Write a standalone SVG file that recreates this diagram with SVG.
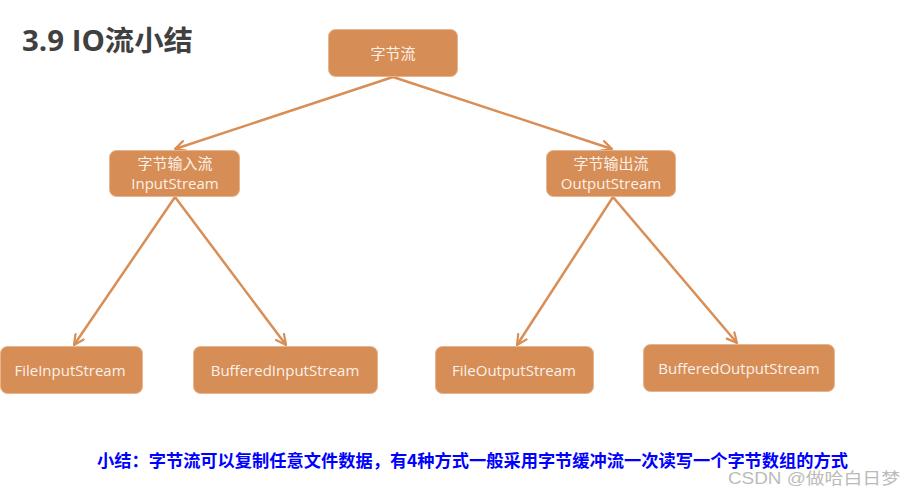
<svg xmlns="http://www.w3.org/2000/svg" width="915" height="489" viewBox="0 0 915 489">
<defs>
<marker id="ah" viewBox="0 0 12 12" refX="11" refY="6" markerWidth="12" markerHeight="12" markerUnits="userSpaceOnUse" orient="auto">
<path d="M1,1 L11,6 L1,11" fill="none" stroke="#D98E56" stroke-width="2.2" stroke-linecap="round" stroke-linejoin="round"/>
</marker>
<style>
.node rect{fill:#D68D56;stroke:#E8B48C;stroke-width:1}
.node text{fill:#FCF1E8;font-family:"Open Sans","Noto Sans CJK SC",sans-serif;font-size:15px;text-anchor:middle}
.conn line{stroke:#D98E56;stroke-width:2.5;marker-end:url(#ah)}
</style>
</defs>
<rect width="915" height="489" fill="#FFFFFF"/>
<text x="22" y="51" font-family="Open Sans,Noto Sans CJK SC,sans-serif" font-weight="bold" font-size="28" fill="#404040" textLength="171" lengthAdjust="spacingAndGlyphs">3.9 IO流小结</text>
<g class="conn">
<line x1="393" y1="77" x2="175" y2="149"/>
<line x1="393" y1="77" x2="612" y2="149"/>
<line x1="175" y1="197" x2="74" y2="345"/>
<line x1="175" y1="197" x2="286" y2="345"/>
<line x1="613" y1="197" x2="517" y2="345"/>
<line x1="613" y1="197" x2="737" y2="343"/>
</g>
<g id="root" class="node"><rect x="328.5" y="29.5" width="129" height="47" rx="7"/><text x="393" y="59">字节流</text></g>
<g id="input" class="node"><rect x="109.5" y="150.5" width="130" height="46" rx="7"/><text x="175" y="169">字节输入流</text><text x="175" y="189">InputStream</text></g>
<g id="output" class="node"><rect x="546.5" y="150.5" width="129" height="46" rx="7"/><text x="611" y="169">字节输出流</text><text x="611" y="189">OutputStream</text></g>
<g id="fis" class="node"><rect x="0.5" y="346.5" width="142" height="47" rx="7"/><text x="70" y="376">FileInputStream</text></g>
<g id="bis" class="node"><rect x="193.5" y="346.5" width="184" height="47" rx="7"/><text x="285" y="376">BufferedInputStream</text></g>
<g id="fos" class="node"><rect x="435.5" y="346.5" width="158" height="47" rx="7"/><text x="514" y="376">FileOutputStream</text></g>
<g id="bos" class="node"><rect x="643.5" y="344.5" width="191" height="47" rx="7"/><text x="739" y="374">BufferedOutputStream</text></g>
<text x="97" y="467" font-family="Noto Sans CJK SC,sans-serif" font-weight="bold" font-size="17" fill="#0000FF" textLength="751" lengthAdjust="spacingAndGlyphs">小结：字节流可以复制任意文件数据，有4种方式一般采用字节缓冲流一次读写一个字节数组的方式</text>
<text x="728" y="484" font-family="Liberation Sans,Noto Sans CJK SC,sans-serif" font-size="16" fill="#BBBBBB" textLength="172" lengthAdjust="spacingAndGlyphs">CSDN @做哈白日梦</text>
</svg>
